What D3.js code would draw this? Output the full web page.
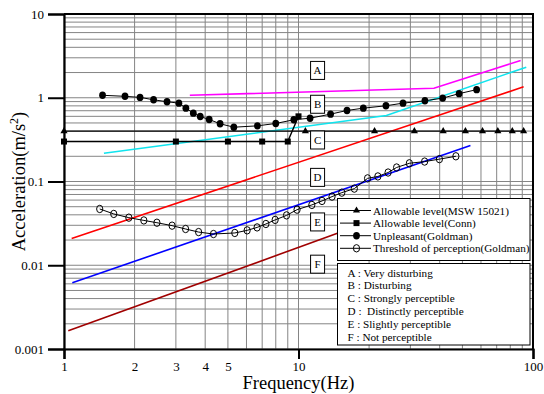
<!DOCTYPE html>
<html>
<head>
<meta charset="utf-8">
<script src="https://cdn.jsdelivr.net/npm/d3@7/dist/d3.min.js"></script>
<style>
  body { margin: 0; background: #fff; }
  svg { display: block; }
  svg text { font-family: "Liberation Serif", "DejaVu Serif", "Noto Serif", Times, serif !important; fill: #000; }
</style>
</head>
<body>
<svg id="chart" width="544" height="394"></svg>
<script>
// ---- Data ----
// Allowable level (MSW 15021)
const freqMSW = [1, 10.7, 21.1, 31.2, 41.4, 51.5, 60.9, 70.8, 81.6, 91.2];
const accMSW  = [0.4, 0.4, 0.4, 0.4, 0.4, 0.4, 0.4, 0.4, 0.4, 0.4];

// Allowable level (Conn)
const freqConn = [1, 3, 5, 7, 9, 10];
const accConn  = [0.3, 0.3, 0.3, 0.3, 0.3, 0.6];

// Unpleasant (Goldman)
const freqUnpleasant = [1.46, 1.82, 2.11, 2.41, 2.75, 3.09, 3.31, 3.56, 3.81, 4.16, 4.63, 5.30,
                        6.68, 8.0, 9.55, 11.2, 13.7, 16.1, 18.9, 23.6, 27.9, 34.6, 41.2, 48.4, 57.5];
const accUnpleasant  = [1.07, 1.04, 1.01, 0.946, 0.896, 0.862, 0.751, 0.655, 0.597, 0.550, 0.489, 0.445,
                        0.462, 0.493, 0.546, 0.570, 0.637, 0.705, 0.751, 0.802, 0.862, 0.92, 0.99, 1.12, 1.25];

// Threshold of perception (Goldman)
const freqThreshold = [1.42, 1.63, 1.89, 2.19, 2.49, 2.89, 3.30, 3.75, 4.34, 5.35, 6.04, 6.66, 7.26, 7.95,
                       8.89, 9.86, 11.4, 12.6, 13.9, 15.3, 17.3, 19.7, 21.8, 24.1, 26.2, 29.7, 34.5, 39.9, 46.9];
const accThreshold  = [0.047, 0.041, 0.037, 0.0343, 0.0322, 0.0297, 0.0271, 0.0249, 0.0236, 0.0243, 0.0261,
                       0.0283, 0.0311, 0.0348, 0.0394, 0.0461, 0.0525, 0.0586, 0.066, 0.0736, 0.0822, 0.109,
                       0.115, 0.128, 0.147, 0.165, 0.173, 0.185, 0.2];

// Perception boundary curves
const freqBoundA = [3.44, 37.8, 88.6];   const accBoundA = [1.07, 1.30, 2.79];
const freqBoundB = [1.48, 23.7, 93.6];   const accBoundB = [0.217, 0.614, 2.32];
const freqBoundC = [1.078, 91.2];        const accBoundC = [0.0209, 1.35];
const freqBoundD = [1.085, 54.1];        const accBoundD = [0.00618, 0.269];
const freqBoundE = [1.043, 16.0];        const accBoundE = [0.00165, 0.0263];

// Axis ticks
const xTickLabels = [1, 2, 3, 4, 5, 10, 100];
const xMajorTicks = [1, 10, 100];
const yTickLabels = [0.001, 0.01, 0.1, 1, 10];

// Zone letters and legend texts
const zoneLetters = ["A", "B", "C", "D", "E", "F"];
const zoneNames = ["A : Very disturbing", "B : Disturbing", "C : Strongly perceptible",
                   "D :  Distinctly perceptible", "E : Slightly perceptible", "F : Not perceptible"];
const seriesNames = ["Allowable level(MSW 15021)", "Allowable level(Conn)",
                     "Unpleasant(Goldman)", "Threshold of perception(Goldman)"];

// ---- Layout ----
const svg = d3.select("#chart");
const plotL = 64, plotR = 533, plotT = 14, plotB = 349;
const SERIF = '"Liberation Serif", "DejaVu Serif", "Noto Serif", Times, serif';

const x = d3.scaleLog().domain([1, 100]).range([plotL, plotR]);
const y = d3.scaleLog().domain([0.001, 10]).range([plotB, plotT]);

// Grid
const grid = svg.append("g").attr("stroke", "#858585").attr("stroke-width", 1);
grid.selectAll("line.v").data(x.ticks()).join("line").attr("class", "v")
  .attr("x1", d => x(d)).attr("x2", d => x(d))
  .attr("y1", plotT).attr("y2", plotB);
grid.selectAll("line.h").data(y.ticks()).join("line").attr("class", "h")
  .attr("x1", plotL).attr("x2", plotR)
  .attr("y1", d => y(d)).attr("y2", d => y(d));

// Frame (top and right)
svg.append("path")
  .attr("d", `M${plotL},${plotT}H${plotR}V${plotB}`)
  .attr("fill", "none").attr("stroke", "#000").attr("stroke-width", 2);

// Axes
const fmt = d => String(+d.toPrecision(3));
const yAxis = svg.append("g").attr("transform", `translate(${plotL},0)`)
  .call(d3.axisLeft(y).tickValues(yTickLabels).tickFormat(fmt).tickSize(16).tickPadding(4));
const xAxis = svg.append("g").attr("transform", `translate(0,${plotB})`)
  .call(d3.axisBottom(x).tickValues(xTickLabels).tickFormat(fmt).tickSize(10).tickPadding(3));
[yAxis, xAxis].forEach(g => {
  g.attr("font-family", SERIF);
  g.select(".domain").attr("stroke", "#000").attr("stroke-width", 2.2);
  g.selectAll(".tick line").attr("stroke", "#000").attr("stroke-width", 2);
  g.selectAll(".tick text").style("font-family", SERIF).attr("font-size", 13).attr("fill", "#000");
});
xAxis.selectAll(".tick line").attr("opacity", d => xMajorTicks.includes(d) ? 1 : 0);

// Axis titles
svg.append("text")
  .attr("x", (plotL + plotR) / 2).attr("y", 389)
  .attr("text-anchor", "middle").attr("font-size", 18.5)
  .style("font-family", SERIF)
  .text("Frequency(Hz)");
const yTitle = svg.append("text")
  .attr("transform", `translate(25,${(plotT + plotB) / 2}) rotate(-90)`)
  .attr("text-anchor", "middle").attr("font-size", 18.5)
  .style("font-family", SERIF);
yTitle.append("tspan").text("Acceleration(m/s");
yTitle.append("tspan").attr("font-size", 12).attr("dy", -7).text("2");
yTitle.append("tspan").attr("dy", 7).text(")");

// Boundary curves
const line = d3.line().x(d => x(d[0])).y(d => y(d[1]));
const pair = (fs, as) => fs.map((f, i) => [f, as[i]]);
const bounds = [
  [freqBoundA, accBoundA, "#ff00ff"],
  [freqBoundB, accBoundB, "#10e4ee"],
  [freqBoundC, accBoundC, "#ff0000"],
  [freqBoundD, accBoundD, "#0000ff"],
  [freqBoundE, accBoundE, "#a00000"]
];
bounds.forEach(([fs, as, c]) => {
  svg.append("path").datum(pair(fs, as))
    .attr("d", line).attr("fill", "none").attr("stroke", c).attr("stroke-width", 1.6);
});

// Measured / reference series
function drawMarker(g, kind, cx, cy) {
  if (kind === "tri") {
    g.append("path").attr("d", d3.symbol(d3.symbolTriangle, 22)())
      .attr("transform", `translate(${cx},${cy})`).attr("fill", "#000");
  } else if (kind === "sq") {
    g.append("rect").attr("x", cx - 3).attr("y", cy - 3).attr("width", 6).attr("height", 6).attr("fill", "#000");
  } else if (kind === "dot") {
    g.append("ellipse").attr("cx", cx).attr("cy", cy).attr("rx", 3.4).attr("ry", 3.7).attr("fill", "#000");
  } else {
    g.append("ellipse").attr("cx", cx).attr("cy", cy).attr("rx", 3.1).attr("ry", 3.7)
      .attr("fill", "none").attr("stroke", "#000").attr("stroke-width", 1);
  }
}
const series = [
  [freqMSW, accMSW, "tri", 1.4],
  [freqConn, accConn, "sq", 1.4],
  [freqUnpleasant, accUnpleasant, "dot", 1],
  [freqThreshold, accThreshold, "open", 1]
];
series.forEach(([fs, as, kind, w]) => {
  const pts = pair(fs, as);
  svg.append("path").datum(pts).attr("d", line)
    .attr("fill", "none").attr("stroke", "#000").attr("stroke-width", w);
  const g = svg.append("g");
  pts.forEach(p => drawMarker(g, kind, x(p[0]), y(p[1])));
});

// Zone letter boxes
const zoneAcc = [2.12, 0.836, 0.313, 0.112, 0.0329, 0.0103];
const zoneFreq = 12.06;
zoneLetters.forEach((t, i) => {
  const cx = x(zoneFreq), cy = y(zoneAcc[i]);
  svg.append("rect").attr("x", cx - 7).attr("y", cy - 9).attr("width", 14).attr("height", 18)
    .attr("fill", "#fff").attr("stroke", "#000").attr("stroke-width", 1);
  svg.append("text").attr("x", cx).attr("y", cy + 4).attr("text-anchor", "middle")
    .attr("font-size", 11).style("font-family", SERIF).text(t);
});

// Series legend
const lg1 = svg.append("g");
lg1.append("rect").attr("x", 337.5).attr("y", 198.5).attr("width", 192.5).attr("height", 62)
  .attr("fill", "#fff").attr("stroke", "#000").attr("stroke-width", 1);
const kinds = ["tri", "sq", "dot", "open"];
seriesNames.forEach((name, i) => {
  const ly = 210.5 + i * 12.6;
  lg1.append("line").attr("x1", 340).attr("x2", 371).attr("y1", ly).attr("y2", ly)
    .attr("stroke", "#000").attr("stroke-width", 1);
  drawMarker(lg1, kinds[i], 356.5, ly);
  lg1.append("text").attr("x", 373).attr("y", ly + 4).attr("font-size", 11.2)
    .style("font-family", SERIF).text(name);
});

// Zone legend
const lg2 = svg.append("g");
lg2.append("rect").attr("x", 337.5).attr("y", 263.5).attr("width", 192.5).attr("height", 81.5)
  .attr("fill", "#fff").attr("stroke", "#000").attr("stroke-width", 1);
zoneNames.forEach((name, i) => {
  lg2.append("text").attr("x", 347.5).attr("y", 276.5 + i * 12.8).attr("font-size", 11.2)
    .style("font-family", SERIF).style("white-space", "pre").text(name);
});
</script>
</body>
</html>
